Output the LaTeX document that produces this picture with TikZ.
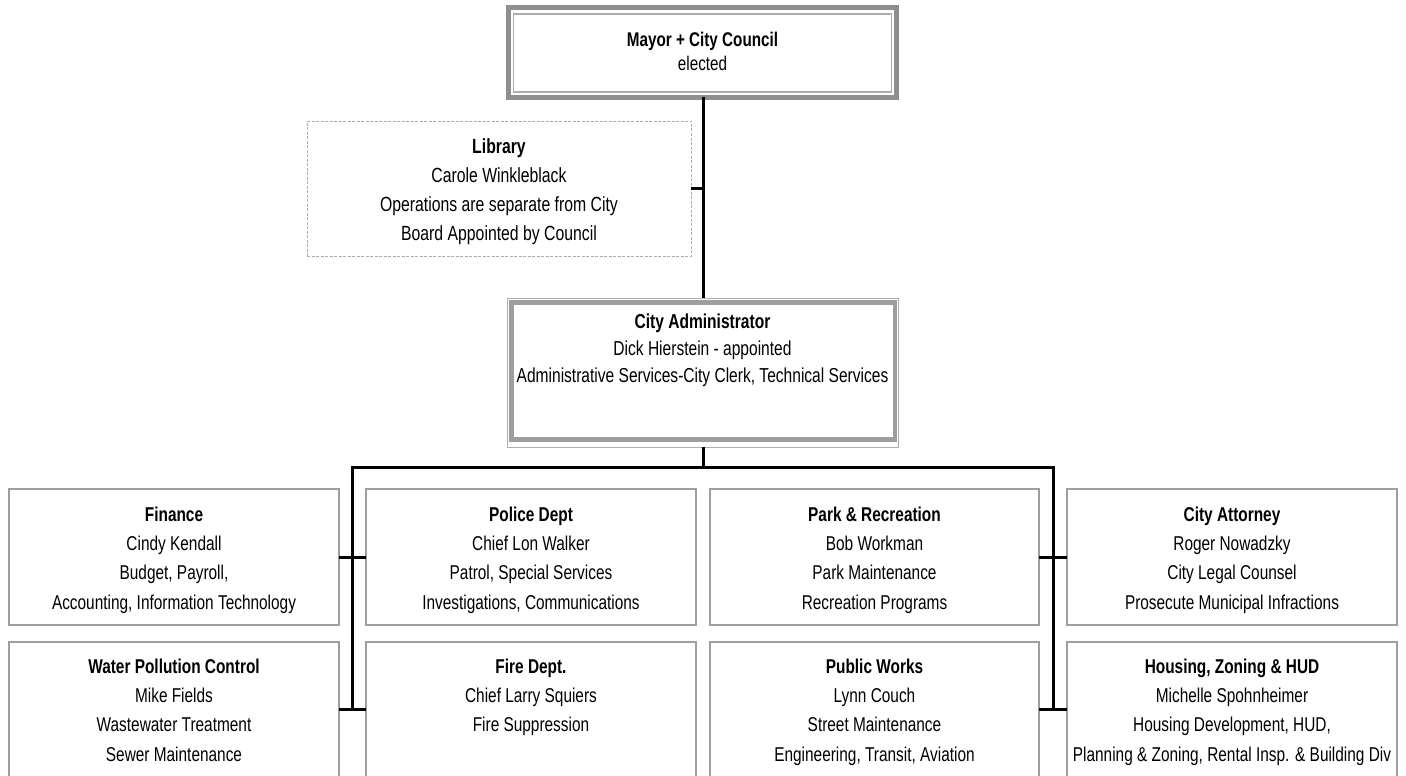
\documentclass[tikz,border=0pt]{standalone}
\usepackage{fontspec}
\setmainfont{Liberation Sans}[FakeStretch=0.77]
\definecolor{boxgray}{gray}{0.62}
\definecolor{bandgray}{gray}{0.56}
\definecolor{thingray}{gray}{0.68}
\begin{document}
\begin{tikzpicture}[x=1pt,y=-1pt,
  rowbox/.style={draw=boxgray, line width=2.6pt, minimum width=330pt, minimum height=136pt, outer sep=0pt, inner sep=0pt, anchor=north west},
  rowtxt/.style={anchor=north, inner sep=0pt, align=center, font=\fontsize{20}{29.3}\selectfont},
  conn/.style={draw=black, line width=3pt}
]
\clip (0,0) rectangle (1406,776);
\fill[white] (0,0) rectangle (1406,776);

% Mayor + City Council
\node[draw=bandgray, line width=5pt, minimum width=388pt, minimum height=89.5pt, outer sep=0pt, inner sep=0pt] (mayor) at (702.5,52.25) {};
\draw[draw=thingray, line width=1.5pt] ([shift={(5,6.5)}]mayor.north west) rectangle ([shift={(-5,-5)}]mayor.south east);
\node[anchor=north, inner sep=0pt, align=center, font=\fontsize{19.8}{24}\selectfont] (mayort) at ([yshift=-22.5pt]mayor.north) {\rule{0pt}{16pt}\textbf{Mayor + City Council}\\elected};

% Library
\node[draw=thingray, line width=0.8pt, dash pattern=on 3pt off 1.5pt, minimum width=384pt, minimum height=135pt, outer sep=0pt, inner sep=0pt] (lib) at (499,188.5) {};
\node[anchor=north, inner sep=0pt, align=center, font=\fontsize{20.5}{29}\selectfont] (libt) at ([yshift=-16pt]lib.north) {\rule{0pt}{16pt}\textbf{Library}\\Carole Winkleblack\\Operations are separate from City\\Board Appointed by Council};

% City Administrator
\node[draw=thingray, line width=1pt, minimum width=391pt, minimum height=149pt, outer sep=0pt, inner sep=0pt] (admin) at (702.5,372.5) {};
\draw[draw=boxgray, line width=4.5pt] ([shift={(4.5,4.5)}]admin.north west) rectangle ([shift={(-3,-7.5)}]admin.south east);
\node[anchor=north, inner sep=0pt, align=center, font=\fontsize{20.2}{27}\selectfont] (admint) at ([yshift=-14pt]admin.north) {\rule{0pt}{16pt}\textbf{City Administrator}\\Dick Hierstein - appointed\\Administrative Services-City Clerk, Technical Services};

% Row 1
\node[rowbox] (fin) at (9,489) {};
\node[rowbox] (pol) at (366,489) {};
\node[rowbox, minimum width=329pt] (park) at (710,489) {};
\node[rowbox] (att) at (1067,489) {};
% Row 2
\node[rowbox, minimum height=170pt] (wpc) at (9,642) {};
\node[rowbox, minimum height=170pt] (fire) at (366,642) {};
\node[rowbox, minimum height=170pt, minimum width=329pt] (pw) at (710,642) {};
\node[rowbox, minimum height=170pt] (hud) at (1067,642) {};

\node[rowtxt] (fint) at ([yshift=-16pt]fin.north) {\rule{0pt}{16pt}\textbf{Finance}\\Cindy Kendall\\Budget, Payroll,\\Accounting, Information Technology};
\node[rowtxt] (polt) at ([yshift=-16pt]pol.north) {\rule{0pt}{16pt}\textbf{Police Dept}\\Chief Lon Walker\\Patrol, Special Services\\Investigations, Communications};
\node[rowtxt] (parkt) at ([yshift=-16pt]park.north) {\rule{0pt}{16pt}\textbf{Park \& Recreation}\\Bob Workman\\Park Maintenance\\Recreation Programs};
\node[rowtxt] (attt) at ([yshift=-16pt]att.north) {\rule{0pt}{16pt}\textbf{City Attorney}\\Roger Nowadzky\\City Legal Counsel\\Prosecute Municipal Infractions};
\node[rowtxt] (wpct) at ([yshift=-15pt]wpc.north) {\rule{0pt}{16pt}\textbf{Water Pollution Control}\\Mike Fields\\Wastewater Treatment\\Sewer Maintenance};
\node[rowtxt] (firet) at ([yshift=-15pt]fire.north) {\rule{0pt}{16pt}\textbf{Fire Dept.}\\Chief Larry Squiers\\Fire Suppression};
\node[rowtxt] (pwt) at ([yshift=-15pt]pw.north) {\rule{0pt}{16pt}\textbf{Public Works}\\Lynn Couch\\Street Maintenance\\Engineering, Transit, Aviation};
\node[rowtxt] (hudt) at ([yshift=-15pt]hud.north) {\rule{0pt}{16pt}\textbf{Housing, Zoning \& HUD}\\Michelle Spohnheimer\\Housing Development, HUD,\\Planning \& Zoning, Rental Insp. \& Building Div};

% connectors
\coordinate (hL) at (352,467);
\coordinate (hR) at (1053,467);
\coordinate (tL1) at (352,557);
\coordinate (tL2) at (352,709);
\coordinate (tR1) at (1053,557);
\coordinate (tR2) at (1053,709);
\coordinate (trunk) at (703,467);

\draw[conn] ([xshift=0.5pt]mayor.south) -- ([xshift=0.5pt]admin.north);
\draw[conn] (lib.east) -- (lib.east -| trunk);
\draw[conn] ([xshift=0.5pt]admin.south) -- (trunk);
\draw[conn] (tL2) -- (hL) -- (hR) -- (tR2);
\draw[conn] (fin.east |- tL1) -- (pol.west |- tL1);
\draw[conn] (wpc.east |- tL2) -- (fire.west |- tL2);
\draw[conn] (park.east |- tR1) -- (att.west |- tR1);
\draw[conn] (pw.east |- tR2) -- (hud.west |- tR2);
\end{tikzpicture}
\end{document}
